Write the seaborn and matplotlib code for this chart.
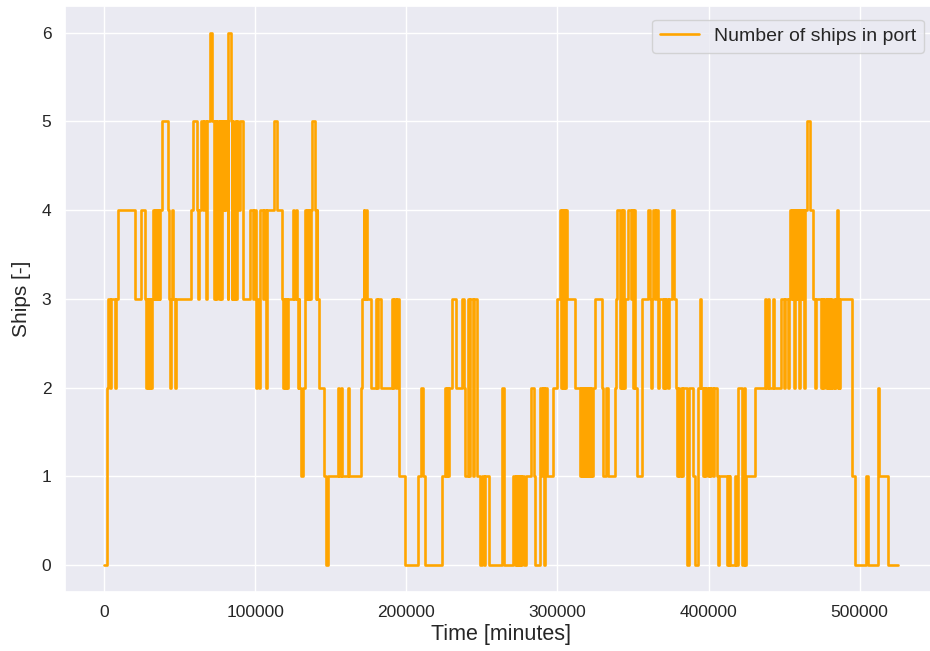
import matplotlib
matplotlib.use("Agg")
import matplotlib.pyplot as plt
import seaborn as sns
import pandas as pd

# Port occupancy log: simulation time (minutes) at which the count changes,
# and the number of ships in port from that moment on.
change_times = [
    0, 1700, 2200, 4000, 4700, 7000, 7800, 9300, 20300, 24500,
    26900, 27500, 28100, 28700, 29300, 29900, 30500, 31100, 31700, 32300,
    32900, 33500, 34100, 34700, 35300, 35900, 36500, 37100, 38000, 41900,
    42800, 43300, 44000, 44600, 45300, 46600, 47300, 57200, 58700, 61100,
    62300, 62900, 64000, 65200, 65900, 67400, 68000, 69700, 71600, 72600,
    73100, 74200, 74700, 75800, 76300, 77100, 77700, 78600, 79100, 80000,
    80600, 81600, 82100, 83700, 84200, 84700, 85200, 85700, 86300, 86800,
    87500, 88000, 88400, 90000, 91900, 96500, 98300, 99000, 100600, 101400,
    102200, 102900, 104800, 105500, 106900, 107800, 112400, 114000, 117700, 118200,
    118900, 119400, 120300, 121100, 121800, 124700, 125500, 126600, 127300, 127900,
    128600, 129100, 130500, 131500, 132900, 133600, 134300, 135000, 135600, 136200,
    136800, 137800, 139300, 139900, 140500, 141100, 142100, 145600, 146600, 147800,
    154800, 155600, 156400, 157200, 161300, 161800, 169900, 170800, 171600, 172200,
    173000, 173700, 176300, 180100, 180800, 181500, 183500, 190200, 191000, 191600,
    193000, 193600, 195000, 199000, 207900, 209900, 210800, 212300, 223300, 225800,
    226500, 227000, 227800, 228400, 230000, 233000, 237000, 237800, 238600, 241000,
    241700, 242300, 243800, 244600, 246500, 248600, 250300, 251500, 252300, 254500,
    263100, 264300, 270800, 272000, 272600, 273200, 273800, 274400, 275200, 276000,
    276800, 277600, 279400, 282200, 284500, 285300, 288400, 289500, 290200, 290800,
    291500, 292900, 297300, 299500, 301700, 302500, 303300, 303900, 304600, 305300,
    305900, 306400, 311600, 314900, 315600, 316200, 316800, 317400, 318000, 318600,
    319300, 319900, 320600, 321200, 321900, 322500, 323300, 324800, 329300, 330300,
    332400, 333400, 338100, 338700, 339300, 341500, 342400, 343000, 343500, 344100,
    344700, 346900, 348400, 349100, 350300, 350900, 351300, 352500, 355800, 360100,
    361500, 362100, 362800, 363500, 364500, 365200, 366800, 367400, 369800, 370300,
    371200, 371800, 373400, 374000, 375600, 377300, 378300, 378900, 379900, 380600,
    381500, 382300, 383000, 385600, 387400, 390000, 391100, 393300, 394400, 395300,
    396200, 397000, 398000, 398600, 399500, 400200, 401100, 401800, 402800, 403400,
    405400, 406300, 407000, 412000, 412600, 413300, 413900, 414500, 417500, 418300,
    419200, 419700, 422500, 423300, 424300, 425000, 430800, 437200, 437900, 439400,
    440100, 442700, 443400, 448000, 450300, 450900, 452700, 453300, 453900, 455000,
    455600, 456700, 457300, 458300, 458900, 460000, 460600, 461600, 462200, 463300,
    463900, 465000, 467200, 469400, 470500, 471200, 474600, 475200, 476000, 476700,
    477500, 478200, 479000, 479800, 480500, 481300, 482000, 482800, 483600, 484300,
    484900, 485500, 486100, 486700, 487200, 495000, 496800, 504500, 505800, 512200,
    513200, 518800, 525600,
]
ships_in_port = [
    0, 2, 3, 2, 3, 2, 3, 4, 3, 4,
    3, 2, 3, 2, 3, 2, 3, 2, 3, 4,
    3, 4, 3, 4, 3, 4, 3, 4, 5, 4,
    3, 2, 3, 4, 3, 2, 3, 4, 5, 4,
    3, 4, 5, 4, 5, 3, 5, 6, 5, 3,
    5, 3, 5, 3, 5, 3, 5, 4, 5, 4,
    5, 3, 6, 5, 3, 5, 3, 4, 3, 5,
    3, 5, 4, 5, 3, 4, 3, 4, 2, 3,
    2, 4, 3, 4, 2, 4, 5, 4, 3, 2,
    3, 2, 3, 2, 3, 4, 3, 4, 3, 2,
    3, 2, 1, 2, 4, 3, 4, 3, 4, 3,
    4, 5, 4, 3, 4, 3, 2, 1, 0, 1,
    2, 1, 2, 1, 2, 1, 2, 3, 4, 3,
    4, 3, 2, 3, 2, 3, 2, 3, 2, 3,
    2, 3, 1, 0, 1, 2, 1, 0, 1, 2,
    1, 2, 1, 2, 3, 2, 3, 2, 1, 3,
    1, 3, 1, 3, 1, 0, 1, 0, 1, 0,
    2, 0, 1, 0, 1, 0, 1, 0, 1, 0,
    1, 0, 1, 2, 1, 0, 2, 1, 2, 0,
    2, 1, 2, 3, 4, 2, 4, 2, 4, 2,
    4, 3, 2, 1, 2, 1, 2, 1, 2, 1,
    2, 1, 2, 1, 2, 1, 2, 3, 2, 1,
    2, 1, 2, 3, 4, 2, 4, 2, 4, 2,
    3, 4, 3, 4, 2, 4, 2, 1, 3, 4,
    3, 2, 3, 4, 3, 4, 2, 3, 2, 3,
    2, 3, 2, 3, 4, 3, 2, 1, 2, 1,
    2, 1, 2, 0, 2, 1, 0, 2, 3, 2,
    1, 2, 1, 2, 1, 2, 1, 2, 1, 2,
    1, 0, 1, 0, 1, 0, 1, 0, 1, 0,
    1, 2, 0, 2, 0, 1, 2, 3, 2, 3,
    2, 3, 2, 3, 2, 3, 2, 3, 4, 3,
    4, 2, 4, 3, 4, 2, 4, 3, 4, 2,
    4, 5, 4, 3, 2, 3, 2, 3, 2, 3,
    2, 3, 2, 3, 2, 3, 2, 3, 2, 3,
    4, 2, 3, 2, 3, 1, 0, 1, 0, 2,
    1, 0, 0,
]

occupancy = pd.DataFrame({"Time [minutes]": change_times, "Ships [-]": ships_in_port})

sns.set_theme(style="darkgrid")
plt.rcParams["font.family"] = ["Liberation Sans", "DejaVu Sans"]

fig = plt.figure(figsize=(9.30, 6.51), dpi=100)
ax = fig.add_axes([0.0695, 0.0911, 0.939, 0.8997])

sns.lineplot(
    data=occupancy, x="Time [minutes]", y="Ships [-]",
    drawstyle="steps-post", color="orange", linewidth=1.9,
    estimator=None, label="Number of ships in port", ax=ax,
)

ax.set_xlabel("Time [minutes]", fontsize=15.5, labelpad=3)
ax.set_ylabel("Ships [-]", fontsize=15, labelpad=8)
ax.tick_params(axis="both", labelsize=12.5)
ax.ticklabel_format(axis="x", style="plain")
ax.legend(loc="upper right", fontsize=14, borderaxespad=0.7)

fig.savefig("out.png", dpi=100)
